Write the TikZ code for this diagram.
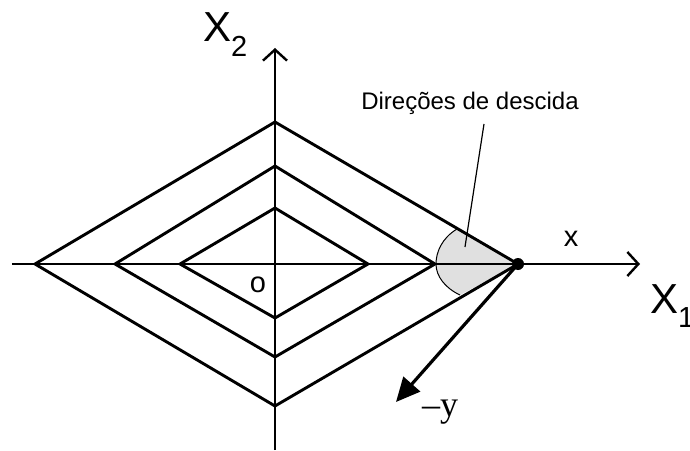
\documentclass[tikz,border=0pt]{standalone}
\usepackage{fontspec}
\setmainfont{Liberation Serif}
\setsansfont{Liberation Sans}
\usepackage{tikz}
\usetikzlibrary{arrows.meta,positioning,calc}
\usepackage{xcolor}
\definecolor{ConeGray}{HTML}{E0E0E0}

\begin{document}
\begin{tikzpicture}[x=1pt,y=1pt,line join=miter,
  diam/.style={line width=2.9pt},
  axis/.style={line width=2.9pt,-{Straight Barb[length=11pt,width=24pt,line width=2.4pt]}},
  lbl/.style={inner sep=0pt,font=\sffamily\fontsize{29}{32}\selectfont}]
\useasboundingbox (-275,-186) rectangle (415,264);
\coordinate (O) at (0,0);
\coordinate (xpt) at (243,0);
\coordinate (tipy) at (121,-138);
% cone of descent directions
\fill[ConeGray] (xpt) -- (182,35) .. controls (167,26) and (161,12) .. (161,0)
  .. controls (161,-12) and (170,-24) .. (185,-31) -- cycle;
\draw[line width=1pt] (182,35) .. controls (167,26) and (161,12) .. (161,0)
  .. controls (161,-12) and (170,-24) .. (185,-31);
% level sets
\foreach \l/\r/\t/\b in {95/93/56/54,160/160/98/93,240/243/142/142}
  \draw[diam] (-\l,0) -- (0,\t) -- (\r,0) -- (0,-\b) -- cycle;
\draw[axis] (-263,0) -- (365,0);
\draw[axis] (0,-186) -- (0,216);
\fill (xpt) circle (6);
\draw[line width=3.2pt,-{Triangle[length=24pt,width=22pt]}] (xpt) -- (tipy);
% labels
\node[font=\sffamily\fontsize{24}{28}\selectfont,inner sep=0pt] (dir) at (195,161) {Direções de descida};
\coordinate (pt) at (190,17);
\draw[line width=1.2pt] (209,140) -- (pt);
\node[lbl] (xl) at (296,25) {x};
\node[lbl] (ol) at (-17,-21) {o};
\node[inner sep=0pt,font=\fontsize{36}{40}\selectfont] (yl) at (165,-148) {\textendash y};
\node[anchor=base west,inner sep=0pt,font=\sffamily\fontsize{42}{46}\selectfont] (X2) at (-72,222) {X\raisebox{-0.35em}{\fontsize{29}{32}\selectfont 2}};
\node[anchor=base west,inner sep=0pt,font=\sffamily\fontsize{42}{46}\selectfont] (X1) at (375,-49) {X\raisebox{-0.35em}{\fontsize{29}{32}\selectfont 1}};
\end{tikzpicture}
\end{document}
